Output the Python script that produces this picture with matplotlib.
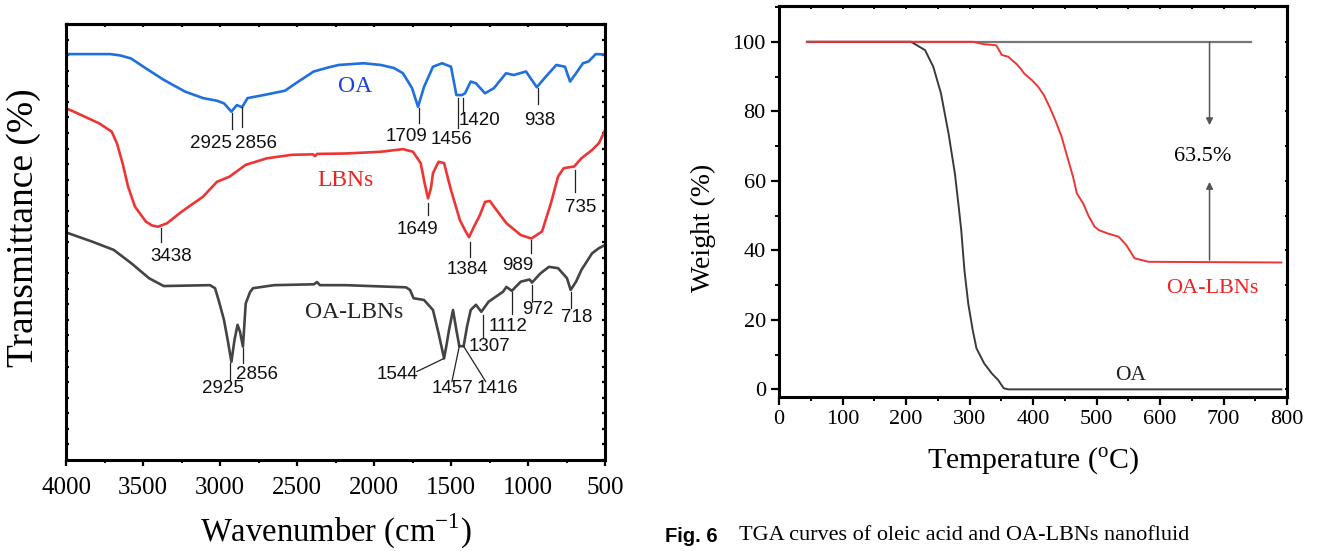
import numpy as np
import matplotlib
matplotlib.use("Agg")
import matplotlib.pyplot as plt
from matplotlib.ticker import MultipleLocator, FixedLocator

# ---------------- FTIR data (wavenumber, transmittance a.u.) ----------------
oa_wn = [4000, 3714, 3650, 3578, 3480, 3366, 3227, 3110, 3020, 2974, 2926, 2891, 2857, 2821, 2717,
         2578, 2508, 2392, 2300, 2230, 2068, 1955, 1870, 1812, 1753, 1714, 1675, 1617, 1558, 1500,
         1465, 1430, 1409, 1372, 1338, 1279, 1221, 1143, 1093, 1013, 943, 885, 816, 760, 727, 688,
         643, 607, 560, 500]
oa_t = [93.1, 93.1, 92.8, 92.1, 89.8, 87.2, 84.5, 83.0, 82.4, 81.8, 79.9, 81.4, 80.9, 83.0, 83.7,
        84.7, 86.4, 89.1, 90.0, 90.6, 91.0, 90.6, 89.9, 88.7, 85.3, 81.0, 85.6, 90.2, 91.0, 90.2,
        83.7, 83.7, 84.1, 86.8, 86.4, 84.1, 85.3, 88.7, 88.3, 89.1, 85.5, 87.9, 90.6, 90.2, 86.8,
        88.7, 91.0, 91.4, 93.1, 93.0]

lbn_wn = [4000, 3900, 3784, 3703, 3669, 3633, 3597, 3552, 3482, 3442, 3403, 3344, 3251, 3110,
          3020, 2938, 2833, 2695, 2532, 2396, 2383, 2370, 2184, 1955, 1812, 1747, 1697, 1669,
          1649, 1630, 1617, 1581, 1545, 1500, 1442, 1403, 1383, 1351, 1312, 1279, 1247, 1221,
          1140, 1047, 978, 909, 851, 805, 769, 740, 701, 653, 584, 539, 500]
lbn_t = [80.7, 79.1, 77.2, 75.3, 72.6, 68.1, 62.7, 58.1, 54.7, 53.8, 53.5, 54.3, 56.9, 60.4,
         63.8, 65.0, 67.7, 69.2, 70.0, 70.1, 69.7, 70.2, 70.3, 70.7, 71.3, 70.7, 68.1, 63.1,
         60.0, 62.4, 65.8, 68.4, 68.1, 61.9, 55.0, 52.3, 51.1, 53.5, 56.2, 59.2, 59.4, 58.1,
         54.3, 51.6, 50.8, 52.4, 58.9, 65.0, 66.9, 67.1, 67.3, 69.2, 71.1, 72.7, 75.6]

oalbn_wn = [4000, 3831, 3691, 3575, 3461, 3366, 3065, 3032, 3006, 2974, 2948, 2926, 2906, 2886,
            2870, 2851, 2833, 2805, 2786, 2649, 2390, 2370, 2351, 2184, 1792, 1766, 1743, 1675,
            1617, 1581, 1545, 1529, 1513, 1487, 1465, 1446, 1418, 1396, 1372, 1338, 1303, 1256,
            1162, 1140, 1105, 1047, 990, 974, 919, 864, 805, 747, 723, 688, 653, 584, 539, 500]
oalbn_t = [52.2, 50.1, 48.2, 45.1, 41.7, 39.9, 40.1, 39.4, 36.3, 32.1, 27.1, 22.5, 27.5, 31.0,
           29.4, 26.0, 35.9, 38.5, 39.4, 40.1, 40.3, 40.8, 40.1, 40.1, 39.6, 39.0, 37.1, 36.7,
           34.4, 29.1, 23.3, 26.4, 29.8, 34.4, 29.8, 26.1, 26.1, 30.6, 34.4, 35.6, 34.0, 36.3,
           38.6, 39.7, 38.8, 40.9, 41.4, 40.7, 42.8, 44.3, 44.0, 41.7, 39.0, 40.9, 43.6, 47.4, 48.6, 49.3]

# peak annotations: text, line x0, y0, x1, y1, label x, label y
oa_peaks = [("2925", 2925, 79.5, 2925, 75.9, 3058, 72.7),
            ("2856", 2857, 80.9, 2857, 76.4, 2766, 72.7),
            ("1709", 1709, 80.7, 1709, 77.3, 1792, 74.2),
            ("1456", 1456, 83.0, 1456, 76.1, 1494, 73.4),
            ("1420", 1420, 83.0, 1420, 79.6, 1312, 77.9),
            ("938", 938, 85.3, 938, 81.7, 922, 77.9)]
lbn_peaks = [("3438", 3383, 53.2, 3383, 50.1, 3318, 46.7),
             ("1649", 1649, 58.9, 1649, 56.2, 1717, 52.8),
             ("1384", 1379, 50.1, 1379, 46.6, 1396, 43.8),
             ("989", 978, 50.5, 978, 47.4, 1065, 44.7),
             ("735", 697, 66.5, 697, 61.5, 659, 57.9)]
oalbn_peaks = [("2925", 2938, 22.2, 2938, 18.3, 2981, 16.3),
               ("2856", 2851, 25.7, 2851, 22.2, 2760, 19.7),
               ("1544", 1545, 23.3, 1721, 20.3, 1847, 19.7),
               ("1457", 1446, 26.1, 1494, 18.0, 1489, 16.3),
               ("1416", 1418, 26.1, 1275, 18.0, 1201, 16.3),
               ("1307", 1295, 33.3, 1295, 28.3, 1247, 26.1),
               ("1112", 1101, 38.6, 1101, 33.6, 1130, 30.6),
               ("972", 971, 40.1, 971, 36.3, 935, 34.5),
               ("718", 718, 38.6, 718, 34.8, 682, 32.6)]

# ---------------- TGA data ----------------
tga_oa_T = [44, 208, 230, 243, 255, 267, 277, 283, 287, 292, 298, 305, 311, 323, 335, 345, 354, 361, 791]
tga_oa_W = [100, 100, 97.6, 92.8, 85.2, 73.6, 62.1, 52.5, 45.8, 34.3, 24.7, 17.1, 11.8, 7.5, 4.6, 2.7, 0.3, 0, 0]

tga_lbn_T = [44, 243, 305, 323, 342, 351, 361, 367, 373, 380, 386, 398, 408, 417, 426, 435, 445,
             454, 463, 469, 479, 488, 497, 504, 517, 535, 547, 560, 582, 791]
tga_lbn_W = [100, 100, 100, 99.3, 99.0, 96.2, 95.7, 94.7, 93.8, 92.4, 90.9, 89.0, 87.1, 84.7,
             81.3, 77.5, 72.7, 66.9, 61.2, 56.4, 53.5, 49.7, 46.8, 45.8, 44.9, 43.9, 41.5, 37.7, 36.7, 36.5]

ref_T = [44, 743]
ref_W = [100, 100]
arrow_T = 678
residue = 36.5

BLUE = "#1f6fdc"
RED = "#ee3535"
DARK = "#444444"
SERIF = ['Liberation Serif', 'DejaVu Serif']
SANS = ['Liberation Sans', 'DejaVu Sans']

plt.rcParams['font.family'] = SERIF
plt.rcParams['mathtext.fontset'] = 'custom'
plt.rcParams['mathtext.rm'] = 'Liberation Serif'

fig = plt.figure(figsize=(13.2, 5.51), dpi=100)

# ---------------- Left: FTIR ----------------
ax = fig.add_axes([66/1320, (551-460)/551, 539/1320, 436/551])
ax.plot(oa_wn, oa_t, color=BLUE, lw=1.9)
ax.plot(lbn_wn, lbn_t, color=RED, lw=1.9)
ax.plot(oalbn_wn, oalbn_t, color=DARK, lw=1.9)
ax.set_xlim(4000, 500)
ax.set_ylim(0, 100)

for peaks in (oa_peaks, lbn_peaks, oalbn_peaks):
    for txt, x0, y0, x1, y1, tx, ty in peaks:
        ax.plot([x0, x1], [y0, y1], color='#222222', lw=0.9)
        ax.text(tx, ty, txt, family=SANS, fontsize=13.5, ha='center', va='center', color='#111111')

ax.text(2120, 85.6, "OA", color='#1a3fe0', fontsize=17, ha='center', va='center')
ax.text(2188, 64.2, "LBNs", color='#ee2222', fontsize=17, ha='center', va='center')
ax.text(2126, 33.9, "OA-LBNs", color='#222222', fontsize=17, ha='center', va='center')

ax.xaxis.set_major_locator(MultipleLocator(500))
ax.xaxis.set_minor_locator(MultipleLocator(250))
ax.yaxis.set_major_locator(FixedLocator(np.linspace(0, 100, 29)))
ax.tick_params(axis='x', which='major', direction='out', length=4, width=1.6, labelsize=18, pad=8,
               top=False)
ax.tick_params(axis='x', which='minor', direction='out', length=2.5, width=1.4, top=False)
ax.tick_params(axis='y', which='major', direction='in', length=2.5, width=1.6, left=True, right=True,
               labelleft=False)
ax2t = ax.secondary_xaxis('top')
ax2t.xaxis.set_major_locator(MultipleLocator(250))
ax2t.tick_params(direction='in', length=2.5, width=1.6, labeltop=False)
ax2t.spines['top'].set_linewidth(2.2)
for s in ax.spines.values():
    s.set_linewidth(2.2)
plt.setp(ax.get_xticklabels(), family=SERIF)
ax.set_xlabel("Wavenumber (cm$^{\\mathregular{-1}}$)", fontsize=23.5, va='center')
ax.xaxis.set_label_coords(0.5, -0.163)
ax.set_ylabel("Transmittance (%)", fontsize=27, va='center')
ax.yaxis.set_label_coords(-0.079, 0.532)

# ---------------- Right: TGA ----------------
bx = fig.add_axes([779/1320, (551-397)/551, 508/1320, 391/551])
bx.plot(ref_T, ref_W, color='#777777', lw=1.6)
bx.plot(tga_oa_T, tga_oa_W, color='#3a3a3a', lw=1.4)
bx.plot(tga_lbn_T, tga_lbn_W, color=RED, lw=1.4)
bx.set_xlim(0, 800)
bx.set_ylim(-2.2, 110.3)
bx.annotate("", xy=(arrow_T, 76.0), xytext=(arrow_T, 100),
            arrowprops=dict(arrowstyle='-|>', color='#555555', lw=1.1, mutation_scale=10,
                            shrinkA=0, shrinkB=0))
bx.annotate("", xy=(arrow_T, 59.7), xytext=(arrow_T, residue + 0.7),
            arrowprops=dict(arrowstyle='-|>', color='#555555', lw=1.1, mutation_scale=10,
                            shrinkA=0, shrinkB=0))
bx.text(668, 66.9, "63.5%", fontsize=16, ha='center', va='center')
bx.text(682, 28.9, "OA-LBNs", color='#ee2222', fontsize=16, ha='center', va='center')
bx.text(554, 4.1, "OA", color='#222222', fontsize=15.5, ha='center', va='center')

bx.xaxis.set_major_locator(MultipleLocator(100))
bx.xaxis.set_minor_locator(MultipleLocator(50))
bx.yaxis.set_major_locator(MultipleLocator(20))
bx.yaxis.set_minor_locator(MultipleLocator(10))
bx.tick_params(which='major', direction='out', length=5.5, width=1.6, labelsize=16, pad=4)
bx.tick_params(which='minor', direction='out', length=3, width=1.4)
bxr = bx.secondary_yaxis('right')
bxr.yaxis.set_major_locator(MultipleLocator(10))
bxr.tick_params(direction='inout', length=3, width=1.4, labelright=False)
bxr.spines['right'].set_linewidth(2.2)
bxt = bx.secondary_xaxis('top')
bxt.xaxis.set_major_locator(MultipleLocator(50))
bxt.tick_params(direction='in', length=2.5, width=1.4, labeltop=False)
bxt.spines['top'].set_linewidth(2.2)
for s in bx.spines.values():
    s.set_linewidth(2.2)
plt.setp(bx.get_xticklabels(), family=SERIF)
plt.setp(bx.get_yticklabels(), family=SERIF)
bx.set_xlabel("Temperature ($^{\\mathregular{o}}$C)", fontsize=21.5, va='center')
bx.xaxis.set_label_coords(0.5, -0.164)
bx.set_ylabel("Weight (%)", fontsize=20, va='center')
bx.yaxis.set_label_coords(-0.148, 0.432)

fig.text(665/1320, (551-536)/551, "Fig. 6", family=SANS, weight='bold', fontsize=14.5,
         va='center', ha='left')
fig.text(739/1320, (551-536)/551, "TGA curves of oleic acid and OA-LBNs nanofluid", fontsize=16,
         va='center', ha='left')

fig.savefig("out.png", dpi=100)
